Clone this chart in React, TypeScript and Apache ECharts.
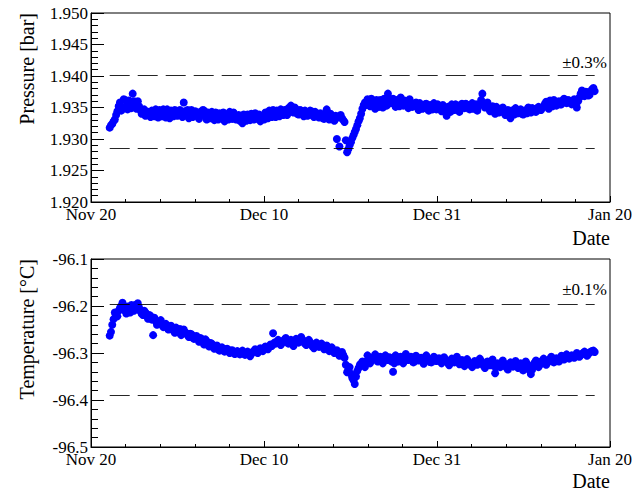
import React, { useEffect, useRef } from "react";
import * as echarts from "echarts";

const xTickLabels = ["Nov 20", "Dec 10", "Dec 31", "Jan 20"];
const xRangeDays = [0, 61];

// sample times, days after Nov 20 (set A)
const days = [
  2.2, 2.5, 2.8, 3.1, 3.4, 3.7, 4.0, 4.3, 4.6, 4.9,
  5.2, 5.5, 5.8, 6.1, 6.4, 6.7, 7.0, 7.3, 7.6, 7.9,
  8.2, 8.5, 8.8, 9.1, 9.4, 9.7, 10.0, 10.3, 10.6, 10.9,
  11.2, 11.5, 11.8, 12.1, 12.4, 12.7, 13.0, 13.3, 13.6, 13.9,
  14.2, 14.5, 14.8, 15.1, 15.4, 15.7, 16.0, 16.3, 16.6, 16.9,
  17.2, 17.5, 17.8, 18.1, 18.4, 18.7, 19.0, 19.3, 19.6, 19.9,
  20.2, 20.5, 20.8, 21.1, 21.4, 21.7, 22.0, 22.3, 22.6, 22.9,
  23.2, 23.5, 23.8, 24.1, 24.4, 24.7, 25.0, 25.3, 25.6, 25.9,
  26.2, 26.5, 26.8, 27.1, 27.4, 27.7, 28.0, 28.3, 28.6, 28.9,
  29.2, 29.5, 29.8, 30.1, 30.4, 30.7, 31.0, 31.3, 31.6, 31.9,
  32.2, 32.5, 32.8, 33.1, 33.4, 33.7, 34.0, 34.3, 34.6, 34.9,
  35.2, 35.5, 35.8, 36.1, 36.4, 36.7, 37.0, 37.3, 37.6, 37.9,
  38.2, 38.5, 38.8, 39.1, 39.4, 39.7, 40.0, 40.3, 40.6, 40.9,
  41.2, 41.5, 41.8, 42.1, 42.4, 42.7, 43.0, 43.3, 43.6, 43.9,
  44.2, 44.5, 44.8, 45.1, 45.4, 45.7, 46.0, 46.3, 46.6, 46.9,
  47.2, 47.5, 47.8, 48.1, 48.4, 48.7, 49.0, 49.3, 49.6, 49.9,
  50.2, 50.5, 50.8, 51.1, 51.4, 51.7, 52.0, 52.3, 52.6, 52.9,
  53.2, 53.5, 53.8, 54.1, 54.4, 54.7, 55.0, 55.3, 55.6, 55.9,
  56.2, 56.5, 56.8, 57.1, 57.4, 57.7, 58.0, 58.3, 58.6, 58.9,
  59.2,
];

// sample times, set B (in between set A)
const daysB = [
  2.35, 2.65, 2.95, 3.25, 3.55, 3.85, 4.15, 4.45, 4.75, 5.05,
  5.35, 5.65, 5.95, 6.25, 6.55, 6.85, 7.15, 7.45, 7.75, 8.05,
  8.35, 8.65, 8.95, 9.25, 9.55, 9.85, 10.15, 10.45, 10.75, 11.05,
  11.35, 11.65, 11.95, 12.25, 12.55, 12.85, 13.15, 13.45, 13.75, 14.05,
  14.35, 14.65, 14.95, 15.25, 15.55, 15.85, 16.15, 16.45, 16.75, 17.05,
  17.35, 17.65, 17.95, 18.25, 18.55, 18.85, 19.15, 19.45, 19.75, 20.05,
  20.35, 20.65, 20.95, 21.25, 21.55, 21.85, 22.15, 22.45, 22.75, 23.05,
  23.35, 23.65, 23.95, 24.25, 24.55, 24.85, 25.15, 25.45, 25.75, 26.05,
  26.35, 26.65, 26.95, 27.25, 27.55, 27.85, 28.15, 28.45, 28.75, 29.05,
  29.35, 29.65, 29.95, 30.25, 30.55, 30.85, 31.15, 31.45, 31.75, 32.05,
  32.35, 32.65, 32.95, 33.25, 33.55, 33.85, 34.15, 34.45, 34.75, 35.05,
  35.35, 35.65, 35.95, 36.25, 36.55, 36.85, 37.15, 37.45, 37.75, 38.05,
  38.35, 38.65, 38.95, 39.25, 39.55, 39.85, 40.15, 40.45, 40.75, 41.05,
  41.35, 41.65, 41.95, 42.25, 42.55, 42.85, 43.15, 43.45, 43.75, 44.05,
  44.35, 44.65, 44.95, 45.25, 45.55, 45.85, 46.15, 46.45, 46.75, 47.05,
  47.35, 47.65, 47.95, 48.25, 48.55, 48.85, 49.15, 49.45, 49.75, 50.05,
  50.35, 50.65, 50.95, 51.25, 51.55, 51.85, 52.15, 52.45, 52.75, 53.05,
  53.35, 53.65, 53.95, 54.25, 54.55, 54.85, 55.15, 55.45, 55.75, 56.05,
  56.35, 56.65, 56.95, 57.25, 57.55, 57.85, 58.15, 58.45, 58.75, 59.05,
];

// pressure [bar], set A
const pressure = [
  1.9318, 1.9324, 1.9331, 1.9344, 1.9358, 1.9350, 1.9362, 1.9347, 1.9356, 1.9372,
  1.9354, 1.9360, 1.9346, 1.9342, 1.9337, 1.9343, 1.9335, 1.9340, 1.9347, 1.9334,
  1.9341, 1.9347, 1.9334, 1.9339, 1.9345, 1.9336, 1.9344, 1.9338, 1.9343, 1.9358,
  1.9340, 1.9333, 1.9346, 1.9337, 1.9342, 1.9332, 1.9339, 1.9345, 1.9331, 1.9338,
  1.9343, 1.9330, 1.9336, 1.9341, 1.9333, 1.9328, 1.9338, 1.9343, 1.9332, 1.9337,
  1.9334, 1.9329, 1.9325, 1.9334, 1.9339, 1.9330, 1.9336, 1.9341, 1.9332, 1.9328,
  1.9337, 1.9342, 1.9333, 1.9340, 1.9346, 1.9335, 1.9341, 1.9347, 1.9338, 1.9344,
  1.9349, 1.9353, 1.9342, 1.9347, 1.9339, 1.9345, 1.9336, 1.9342, 1.9338, 1.9344,
  1.9335, 1.9340, 1.9334, 1.9338, 1.9332, 1.9347, 1.9331, 1.9336, 1.9329, 1.9300,
  1.9288, 1.9333, 1.9327, 1.9279, 1.9290, 1.9301, 1.9311, 1.9322, 1.9333, 1.9348,
  1.9358, 1.9363, 1.9352, 1.9360, 1.9348, 1.9356, 1.9362, 1.9350, 1.9358, 1.9372,
  1.9357, 1.9364, 1.9351, 1.9359, 1.9366, 1.9353, 1.9360, 1.9349, 1.9357, 1.9352,
  1.9358, 1.9346, 1.9354, 1.9349, 1.9356, 1.9345, 1.9352, 1.9357, 1.9347, 1.9353,
  1.9344, 1.9350, 1.9337, 1.9348, 1.9355, 1.9346, 1.9352, 1.9343, 1.9356, 1.9349,
  1.9354, 1.9347, 1.9357, 1.9351, 1.9345, 1.9356, 1.9372, 1.9350, 1.9358, 1.9344,
  1.9352, 1.9340, 1.9348, 1.9343, 1.9350, 1.9338, 1.9346, 1.9333, 1.9342, 1.9349,
  1.9341, 1.9347, 1.9339, 1.9345, 1.9350, 1.9342, 1.9348, 1.9343, 1.9351, 1.9346,
  1.9352, 1.9359, 1.9348, 1.9356, 1.9362, 1.9353, 1.9360, 1.9355, 1.9364, 1.9357,
  1.9361, 1.9355, 1.9363, 1.9350, 1.9366, 1.9377, 1.9368, 1.9374, 1.9370, 1.9379,
  1.9376,
];

// pressure [bar], set B
const pressureB = [
  1.9322, 1.9328, 1.9338, 1.9352, 1.9345, 1.9363, 1.9352, 1.9361, 1.9349, 1.9360,
  1.9348, 1.9352, 1.9340, 1.9347, 1.9341, 1.9338, 1.9345, 1.9336, 1.9341, 1.9346,
  1.9336, 1.9342, 1.9347, 1.9333, 1.9340, 1.9346, 1.9337, 1.9346, 1.9335, 1.9344,
  1.9346, 1.9339, 1.9335, 1.9344, 1.9336, 1.9343, 1.9346, 1.9336, 1.9342, 1.9333,
  1.9337, 1.9342, 1.9331, 1.9337, 1.9342, 1.9335, 1.9331, 1.9337, 1.9342, 1.9331,
  1.9338, 1.9334, 1.9339, 1.9329, 1.9334, 1.9340, 1.9331, 1.9335, 1.9339, 1.9334,
  1.9331, 1.9337, 1.9345, 1.9335, 1.9340, 1.9345, 1.9336, 1.9340, 1.9346, 1.9338,
  1.9343, 1.9346, 1.9350, 1.9340, 1.9346, 1.9341, 1.9345, 1.9337, 1.9345, 1.9339,
  1.9343, 1.9336, 1.9341, 1.9333, 1.9339, 1.9335, 1.9340, 1.9332, 1.9337, 1.9334,
  1.9338, 1.9330, 1.9298, 1.9284, 1.9295, 1.9306, 1.9316, 1.9328, 1.9340, 1.9354,
  1.9354, 1.9359, 1.9364, 1.9355, 1.9362, 1.9351, 1.9359, 1.9364, 1.9353, 1.9361,
  1.9361, 1.9355, 1.9362, 1.9352, 1.9356, 1.9361, 1.9354, 1.9363, 1.9351, 1.9356,
  1.9352, 1.9357, 1.9348, 1.9355, 1.9350, 1.9354, 1.9347, 1.9351, 1.9355, 1.9349,
  1.9354, 1.9344, 1.9351, 1.9343, 1.9350, 1.9355, 1.9348, 1.9354, 1.9351, 1.9356,
  1.9350, 1.9354, 1.9348, 1.9355, 1.9352, 1.9362, 1.9355, 1.9353, 1.9349, 1.9348,
  1.9346, 1.9351, 1.9342, 1.9347, 1.9343, 1.9344, 1.9339, 1.9345, 1.9339, 1.9344,
  1.9345, 1.9340, 1.9345, 1.9341, 1.9346, 1.9349, 1.9344, 1.9349, 1.9347, 1.9350,
  1.9356, 1.9354, 1.9361, 1.9352, 1.9358, 1.9357, 1.9355, 1.9361, 1.9359, 1.9362,
  1.9357, 1.9360, 1.9356, 1.9360, 1.9372, 1.9371, 1.9375, 1.9369, 1.9376, 1.9381,
];

// temperature [°C], set A
const temperature = [
  -96.263, -96.240, -96.214, -96.222, -96.204, -96.193, -96.210, -96.201, -96.214, -96.205,
  -96.198, -96.194, -96.211, -96.219, -96.214, -96.227, -96.221, -96.262, -96.232, -96.238,
  -96.230, -96.245, -96.238, -96.250, -96.242, -96.252, -96.246, -96.256, -96.262, -96.250,
  -96.258, -96.266, -96.260, -96.270, -96.264, -96.276, -96.270, -96.282, -96.275, -96.286,
  -96.280, -96.291, -96.284, -96.295, -96.288, -96.297, -96.291, -96.300, -96.294, -96.302,
  -96.296, -96.303, -96.295, -96.304, -96.297, -96.307, -96.298, -96.292, -96.300, -96.290,
  -96.296, -96.286, -96.292, -96.282, -96.258, -96.280, -96.272, -96.283, -96.275, -96.268,
  -96.280, -96.272, -96.285, -96.270, -96.278, -96.266, -96.276, -96.283, -96.272, -96.281,
  -96.290, -96.278, -96.287, -96.280, -96.292, -96.284, -96.296, -96.288, -96.300, -96.294,
  -96.306, -96.298, -96.310, -96.341, -96.330, -96.352, -96.366, -96.338, -96.325, -96.318,
  -96.330, -96.305, -96.322, -96.312, -96.303, -96.318, -96.308, -96.322, -96.305, -96.315,
  -96.310, -96.340, -96.305, -96.318, -96.308, -96.322, -96.302, -96.315, -96.308, -96.320,
  -96.306, -96.316, -96.310, -96.323, -96.305, -96.314, -96.320, -96.308, -96.317, -96.311,
  -96.322, -96.309, -96.318, -96.326, -96.312, -96.320, -96.308, -96.324, -96.315, -96.328,
  -96.313, -96.322, -96.330, -96.317, -96.325, -96.312, -96.321, -96.332, -96.318, -96.326,
  -96.314, -96.343, -96.322, -96.330, -96.316, -96.327, -96.335, -96.320, -96.329, -96.317,
  -96.332, -96.322, -96.337, -96.318, -96.328, -96.345, -96.325, -96.316, -96.330, -96.320,
  -96.312, -96.325, -96.316, -96.308, -96.320, -96.311, -96.318, -96.306, -96.314, -96.303,
  -96.312, -96.305, -96.310, -96.300, -96.308, -96.302, -96.297, -96.306, -96.299, -96.296,
  -96.298,
];

// temperature [°C], set B
const temperatureB = [
  -96.255, -96.228, -96.220, -96.210, -96.200, -96.205, -96.216, -96.207, -96.198, -96.210,
  -96.205, -96.203, -96.216, -96.210, -96.222, -96.219, -96.229, -96.225, -96.240, -96.233,
  -96.238, -96.240, -96.246, -96.244, -96.248, -96.257, -96.251, -96.249, -96.255, -96.256,
  -96.262, -96.259, -96.267, -96.265, -96.271, -96.268, -96.277, -96.271, -96.281, -96.279,
  -96.286, -96.287, -96.290, -96.290, -96.294, -96.292, -96.296, -96.295, -96.299, -96.298,
  -96.300, -96.299, -96.301, -96.300, -96.302, -96.301, -96.296, -96.297, -96.295, -96.293,
  -96.290, -96.289, -96.287, -96.285, -96.278, -96.276, -96.278, -96.279, -96.271, -96.275,
  -96.276, -96.279, -96.277, -96.274, -96.272, -96.271, -96.280, -96.277, -96.277, -96.286,
  -96.284, -96.283, -96.284, -96.286, -96.288, -96.290, -96.292, -96.294, -96.297, -96.300,
  -96.302, -96.304, -96.325, -96.335, -96.344, -96.358, -96.350, -96.332, -96.322, -96.325,
  -96.318, -96.314, -96.316, -96.308, -96.311, -96.313, -96.316, -96.313, -96.311, -96.309,
  -96.318, -96.322, -96.312, -96.313, -96.315, -96.314, -96.309, -96.311, -96.314, -96.313,
  -96.312, -96.311, -96.317, -96.316, -96.310, -96.319, -96.314, -96.313, -96.313, -96.317,
  -96.315, -96.314, -96.322, -96.319, -96.317, -96.314, -96.316, -96.319, -96.321, -96.320,
  -96.318, -96.326, -96.324, -96.321, -96.318, -96.317, -96.327, -96.325, -96.322, -96.320,
  -96.328, -96.330, -96.326, -96.323, -96.322, -96.331, -96.327, -96.325, -96.323, -96.325,
  -96.327, -96.330, -96.327, -96.323, -96.336, -96.335, -96.320, -96.323, -96.325, -96.316,
  -96.318, -96.320, -96.312, -96.314, -96.316, -96.315, -96.312, -96.310, -96.309, -96.308,
  -96.308, -96.307, -96.305, -96.304, -96.305, -96.300, -96.302, -96.302, -96.297, -96.295,
];

const pressureAxis = [1.92, 1.95, 0.005];
const temperatureAxis = [-96.5, -96.1, 0.1];
const pressureCenter = 1.9343;
const pressureTolerance = 0.003;
const pressureBandLabel = "±0.3%";
const temperatureCenter = -96.293;
const temperatureTolerance = 0.001;
const temperatureBandLabel = "±0.1%";

const FONT = "'Liberation Serif', 'Times New Roman', 'DejaVu Serif', serif";

export default function App() {
  const ref = useRef<HTMLDivElement>(null);

  useEffect(() => {
    if (!ref.current) return;
    const chart = echarts.init(ref.current, undefined, { renderer: "svg" });
    const xInterval = (xRangeDays[1] - xRangeDays[0]) / 3;

    const xAxisFor = (gridIndex: number) => ({
      type: "value",
      gridIndex,
      min: xRangeDays[0],
      max: xRangeDays[1],
      interval: xInterval,
      axisLine: { show: true, onZero: false, lineStyle: { color: "#000", width: 1 } },
      axisTick: { show: true, inside: true, length: 6, lineStyle: { color: "#000", width: 1 } },
      minorTick: { show: true, splitNumber: 5, length: 3, lineStyle: { color: "#000", width: 1 } },
      splitLine: { show: false },
      axisLabel: {
        show: true,
        showMinLabel: true,
        showMaxLabel: true,
        margin: 4,
        color: "#000",
        fontFamily: FONT,
        fontSize: 17,
        formatter: (v: number) => xTickLabels[Math.round((v - xRangeDays[0]) / xInterval)] ?? "",
      },
    });

    const yAxisFor = (gridIndex: number, axis: number[], decimals: number) => ({
      type: "value",
      gridIndex,
      min: axis[0],
      max: axis[1],
      interval: axis[2],
      axisLine: { show: true, onZero: false, lineStyle: { color: "#000", width: 1 } },
      axisTick: { show: true, inside: true, length: 13, lineStyle: { color: "#000", width: 1 } },
      minorTick: { show: true, splitNumber: 5, length: 7, lineStyle: { color: "#000", width: 1 } },
      splitLine: { show: false },
      axisLabel: {
        show: true,
        showMinLabel: true,
        showMaxLabel: true,
        margin: 3,
        color: "#000",
        fontFamily: FONT,
        fontSize: 17,
        formatter: (v: number) => v.toFixed(decimals),
      },
    });

    const first = days[0];
    const last = days[days.length - 1];
    const bandLines = (center: number, tol: number) => ({
      silent: true,
      symbol: ["none", "none"],
      label: { show: false },
      lineStyle: { color: "#000", type: [20, 8], width: 1, opacity: 0.85 },
      data: [
        [{ coord: [first, center * (1 + tol)] }, { coord: [last, center * (1 + tol)] }],
        [{ coord: [first, center * (1 - tol)] }, { coord: [last, center * (1 - tol)] }],
      ],
    });

    const pts = (t: number[], v: number[]) => t.map((d, i) => [d, v[i]]);

    const scatterStyle = {
      type: "scatter",
      symbol: "circle",
      symbolSize: 8,
      itemStyle: { color: "#0000ff", opacity: 1 },
    };

    const textStyle = (text: string, size: number, align: string) => ({
      text,
      fill: "#000",
      fontFamily: FONT,
      fontSize: size,
      textAlign: align,
      verticalAlign: "middle",
      textVerticalAlign: "middle",
    });

    chart.setOption({
      animation: false,
      backgroundColor: "#fff",
      textStyle: { fontFamily: FONT },
      grid: [
        { left: 91, top: 13, width: 519, height: 189, show: true, borderColor: "#000", borderWidth: 1, backgroundColor: "transparent" },
        { left: 91, top: 259, width: 519, height: 188, show: true, borderColor: "#000", borderWidth: 1, backgroundColor: "transparent" },
      ],
      xAxis: [xAxisFor(0), xAxisFor(1)],
      yAxis: [yAxisFor(0, pressureAxis, 3), yAxisFor(1, temperatureAxis, 1)],
      series: [
        {
          ...scatterStyle,
          xAxisIndex: 0,
          yAxisIndex: 0,
          data: pts(days, pressure).concat(pts(daysB, pressureB)),
          markLine: bandLines(pressureCenter, pressureTolerance),
        },
        {
          ...scatterStyle,
          xAxisIndex: 1,
          yAxisIndex: 1,
          data: pts(days, temperature).concat(pts(daysB, temperatureB)),
          markLine: bandLines(temperatureCenter, temperatureTolerance),
        },
      ],
      graphic: [
        { type: "text", x: 27, y: 13, rotation: Math.PI / 2, style: textStyle("Pressure [bar]", 20, "right") },
        { type: "text", x: 27, y: 259, rotation: Math.PI / 2, style: textStyle("Temperature [°C]", 20, "right") },
        { type: "text", x: 610, y: 238, style: textStyle("Date", 20, "right") },
        { type: "text", x: 610, y: 481, style: textStyle("Date", 20, "right") },
        { type: "text", x: 607, y: 62, style: textStyle(pressureBandLabel, 17, "right") },
        { type: "text", x: 607, y: 289, style: textStyle(temperatureBandLabel, 17, "right") },
      ],
    });

    return () => chart.dispose();
  }, []);

  return (
    <div
      ref={ref}
      style={{ position: "fixed", left: 0, top: 0, width: 644, height: 492, background: "#fff" }}
    />
  );
}
